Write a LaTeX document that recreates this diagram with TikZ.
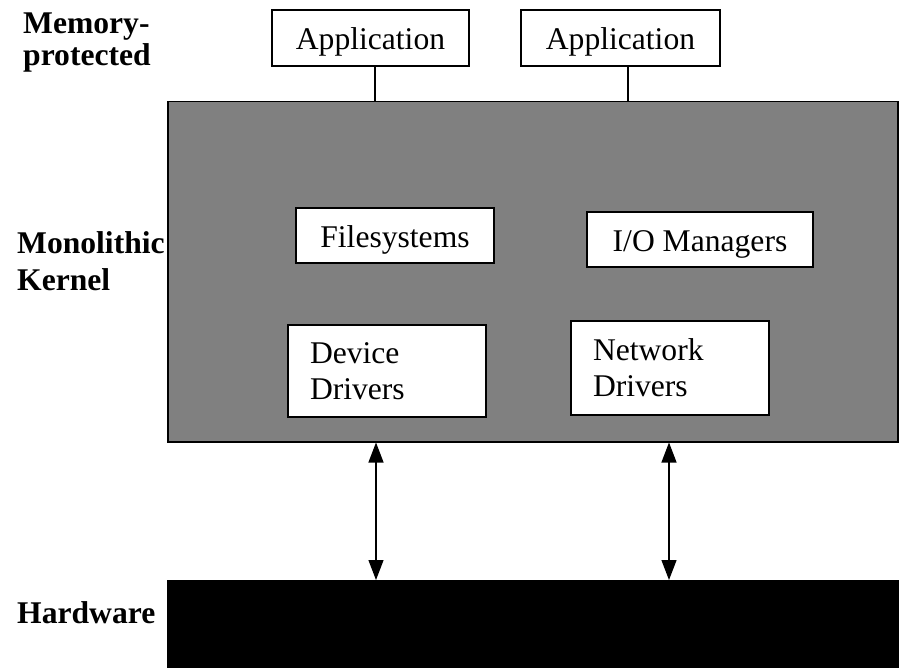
\documentclass[tikz,border=0pt]{standalone}
\usepackage{fontspec}
\setmainfont{Liberation Serif}
\usetikzlibrary{arrows.meta}
\definecolor{kgray}{RGB}{128,128,128}
\begin{document}
\begin{tikzpicture}[x=1pt,y=-1pt,
  box/.style={draw=black,line width=1.5pt,fill=white,inner sep=0pt,font=\fontsize{31.6}{36}\selectfont},
  sbox/.style={box,text depth=0pt,text height=24pt},
  lbox/.style={box,align=left,inner xsep=22pt},
  lbl/.style={inner sep=0pt,align=left,font=\bfseries},
  conn/.style={line width=1.2pt},
  dconn/.style={line width=1.2pt,{Triangle[width=15pt,length=20pt]}-{Triangle[width=15pt,length=20pt]}}]
\useasboundingbox (0,0) rectangle (899,668);
% big blocks
\node[draw=black,line width=1.5pt,fill=kgray,minimum width=730pt,minimum height=340pt,inner sep=0pt,anchor=north west] (kernel) at (167,101) {};
\node[fill=black,minimum width=732pt,minimum height=88pt,inner sep=0pt,anchor=north west] (hw) at (167,580) {};
% applications
\node[sbox,minimum width=197pt,minimum height=56pt] (app1) at (370.5,38) {Application};
\node[sbox,minimum width=199pt,minimum height=56pt] (app2) at (620.5,38) {Application};
% inner boxes
\node[sbox,minimum width=198pt,minimum height=55pt] (fs) at (395,235.5) {Filesystems};
\node[sbox,minimum width=226pt,minimum height=55pt] (io) at (700,239.5) {I/O Managers};
\node[lbox,text width=154pt,minimum height=92pt] (dev) at (387,371) {Device\\Drivers};
\node[lbox,text width=154pt,minimum height=94pt] (net) at (670,368) {Network\\Drivers};
% side labels
\node[lbl,font=\bfseries\fontsize{31.6}{32.4}\selectfont,anchor=north west] (mem) at (23,12.4) {Memory-\\protected};
\node[lbl,font=\bfseries\fontsize{31.6}{37}\selectfont,anchor=north west] (mono) at (17,231.4) {Monolithic\\Kernel};
\node[lbl,font=\bfseries\fontsize{31.6}{37}\selectfont,anchor=base west] (hwl) at (17,623) {Hardware};
% connectors
\coordinate (c1) at (375,0);
\coordinate (c2) at (628,0);
\coordinate (d1) at (376,0);
\coordinate (d2) at (669,0);
\draw[conn] (app1.south -| c1) -- (kernel.north -| c1);
\draw[conn] (app2.south -| c2) -- (kernel.north -| c2);
\draw[dconn] (kernel.south -| d1) -- (hw.north -| d1);
\draw[dconn] (kernel.south -| d2) -- (hw.north -| d2);
\end{tikzpicture}
\end{document}
